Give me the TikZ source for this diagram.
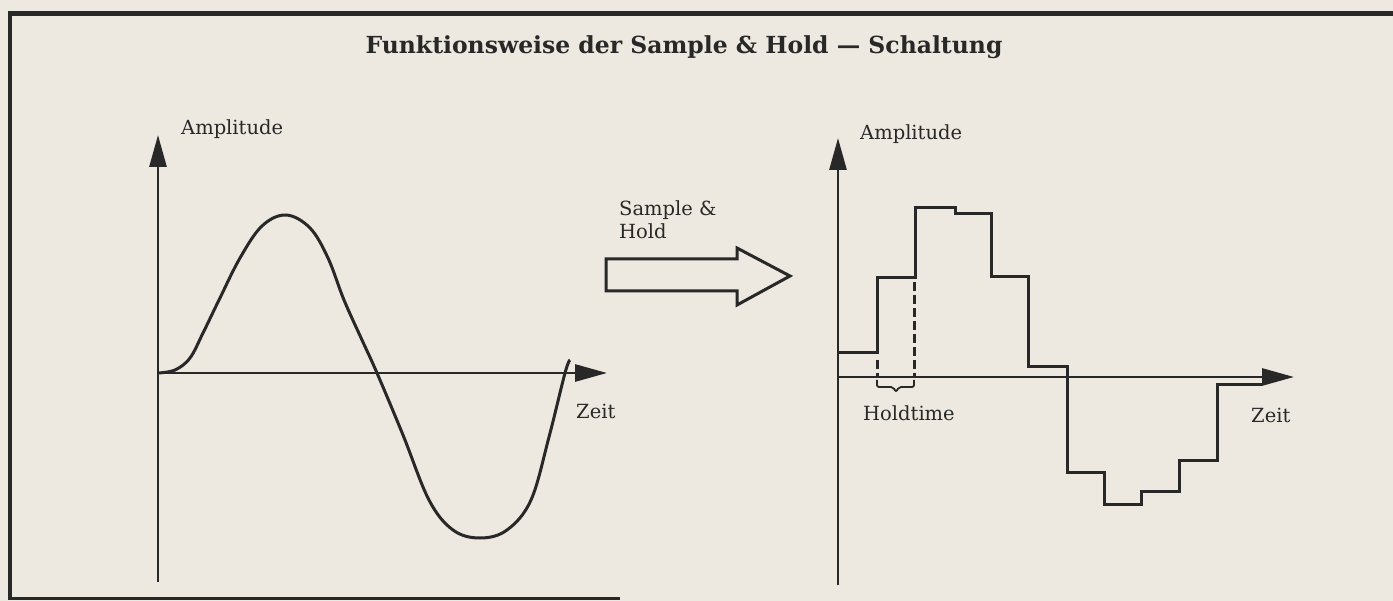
\documentclass[tikz,border=0pt]{standalone}
\usepackage{fontspec}
\setmainfont{DejaVu Serif}
\usepackage{tikz}
\usetikzlibrary{arrows.meta,positioning,calc}
\usepackage{xcolor}
\definecolor{paper}{RGB}{237,233,224}
\definecolor{ink}{RGB}{40,40,40}

\begin{document}
\begin{tikzpicture}[x=1pt,y=-1pt,>={Triangle[length=32pt,width=17pt]},
  axis/.style={draw=ink,line width=2.8pt,->},
  wave/.style={draw=ink,line width=3pt,line join=miter},
  lbl/.style={text=ink,inner sep=0pt,anchor=west,font=\fontsize{19.5}{23}\selectfont}]
\useasboundingbox (0,0) rectangle (1393,601);
\fill[paper] (0,0) rectangle (1393,601);
% frame
\draw[ink,line width=5pt] (8,14) -- (1393,14);
\draw[ink,line width=4pt] (10,12) -- (10,600);
\draw[ink,line width=3pt] (8,598) -- (620,598);
\node (title) [text=ink,inner sep=0pt,font=\bfseries\fontsize{23.5}{28}\selectfont] at (684,47)
  {Funktionsweise der Sample \& Hold --- Schaltung};

% left: input signal
\coordinate (oL) at (158,373);
\coordinate (bL) at (158,582);
\coordinate (yL) at (158,135);
\coordinate (xL) at (607,373);
\draw[axis] (bL) -- (yL);
\draw[axis] (oL) -- (xL);
\node (ampL) [lbl] at (181,129) {Amplitude};
\node (zeitL) [lbl] at (576,411) {Zeit};
\draw[wave] plot[smooth,tension=0.6] coordinates {(158,373) (175,370) (190,358) (203,333)
  (219,300) (240,258) (262,226) (286,215) (310,228) (328,258) (344,300) (362,340) (377,373)
  (403,435) (429,500) (453,530) (480,538) (507,530) (531,500) (549,437) (565,373) (570,360)};

% hollow arrow
\draw[ink,line width=3pt,line join=miter] (606,259) -- (737,259) -- (737,248) -- (790,276)
  -- (737,305) -- (737,291) -- (606,291) -- cycle;
\node (sh) [lbl,align=left,anchor=north west] at (619,200) {Sample \&\\Hold};

% right: held signal
\coordinate (oR) at (838,377);
\coordinate (bR) at (838,585);
\coordinate (yR) at (838,138);
\coordinate (xR) at (1294,377);
\draw[axis] (bR) -- (yR);
\draw[axis] (oR) -- (xR);
\node (ampR) [lbl] at (860,134) {Amplitude};
\node (zeitR) [lbl] at (1251,415) {Zeit};
\draw[wave] (838,353) -- (877,353) -- (877,278) -- (915,278) -- (915,208) -- (955,208)
  -- (955,214) -- (991,214) -- (991,277) -- (1028,277) -- (1028,367) -- (1067,367)
  -- (1067,473) -- (1104,473) -- (1104,505) -- (1141,505) -- (1141,492) -- (1179,492)
  -- (1179,461) -- (1217,461) -- (1217,385) -- (1262,385);
\draw[ink,line width=3pt,dash pattern=on 9pt off 4pt] (877,360) -- (877,377);
\draw[ink,line width=3pt,dash pattern=on 9pt off 4pt] (914,282) -- (914,377);
\draw[ink,line width=1.8pt,rounded corners=2pt] (877,380) -- (877,387) -- (893,387)
  -- (896,392) -- (899,387) -- (914,387) -- (914,380);
\node (hold) [lbl] at (863,413) {Holdtime};
\end{tikzpicture}
\end{document}
